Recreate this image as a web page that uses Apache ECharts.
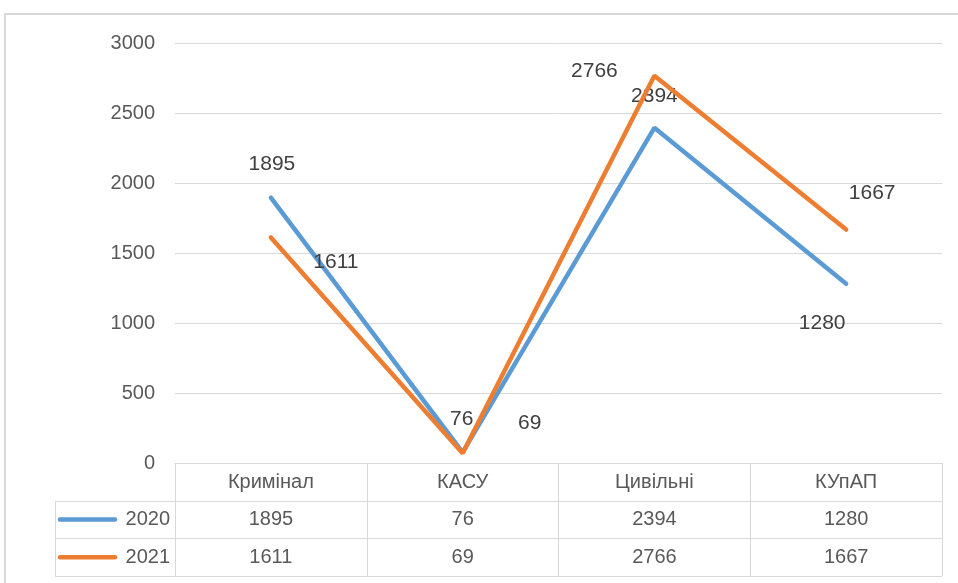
<!DOCTYPE html>
<html>
<head>
<meta charset="utf-8">
<script src="https://cdn.jsdelivr.net/npm/echarts@6/dist/echarts.min.js"></script>
<style>
  html, body { margin: 0; padding: 0; background: #fff; }
  #main { width: 958px; height: 583px; }
</style>
</head>
<body>
<div id="main"></div>
<script>
// дані діаграми
var categories = ['Кримінал', 'КАСУ', 'Цивільні', 'КУпАП'];
var seriesNames = ['2020', '2021'];
var values2020 = [1895, 76, 2394, 1280];
var values2021 = [1611, 69, 2766, 1667];
var yTicks = [0, 500, 1000, 1500, 2000, 2500, 3000];

// кольори та зсуви підписів (як в Excel)
var colors = ['#5B9BD5', '#ED7D31'];
var offs2020 = [[1, -33], [-1, -33], [0, -32], [-24, 39]];
var offs2021 = [[65, 25], [67, -30], [-60, -5], [26, -36]];

var FONT = 'Liberation Sans';
var chart = echarts.init(document.getElementById('main'));

function makeData(vals, offs) {
    return vals.map(function (v, i) {
        return {
            value: v,
            label: { position: 'inside', offset: offs[i] }
        };
    });
}

var option = {
    animation: false,
    backgroundColor: '#fff',
    grid: { left: 175, right: 16, top: 43, bottom: 120 },
    xAxis: {
        type: 'category',
        data: categories,
        boundaryGap: true,
        axisLine: { lineStyle: { color: '#d9d9d9', width: 1 } },
        axisTick: { show: true, length: 113, lineStyle: { color: '#d9d9d9' } },
        axisLabel: { margin: 9, fontFamily: FONT, fontSize: 20, color: '#595959' },
        splitLine: { show: false }
    },
    yAxis: {
        type: 'value',
        min: yTicks[0],
        max: yTicks[yTicks.length - 1],
        interval: 500,
        axisLine: { show: false },
        axisTick: { show: false },
        axisLabel: {
            margin: 20, fontFamily: FONT, fontSize: 20, color: '#595959',
            formatter: function (v) { return String(v); }
        },
        splitLine: { lineStyle: { color: '#d9d9d9', width: 1 } }
    },
    series: [
        {
            name: seriesNames[0],
            type: 'line',
            data: makeData(values2020, offs2020),
            symbol: 'circle',
            symbolSize: 1,
            itemStyle: { color: colors[0] },
            lineStyle: { color: colors[0], width: 4.5, cap: 'round' },
            label: { show: true, fontFamily: FONT, fontSize: 21, color: '#404040' },
            z: 3
        },
        {
            name: seriesNames[1],
            type: 'line',
            data: makeData(values2021, offs2021),
            symbol: 'circle',
            symbolSize: 1,
            itemStyle: { color: colors[1] },
            lineStyle: { color: colors[1], width: 4.5, cap: 'round' },
            label: { show: true, fontFamily: FONT, fontSize: 21, color: '#404040' },
            z: 4
        }
    ]
};
chart.setOption(option);

// таблиця даних під віссю
function buildTable() {
    var g = [];
    var x0 = chart.convertToPixel({ xAxisIndex: 0 }, 0);
    var step = chart.convertToPixel({ xAxisIndex: 0 }, 1) - x0;
    var y0 = chart.convertToPixel({ yAxisIndex: 0 }, 0);
    var left = x0 - step / 2;
    var right = left + step * categories.length;
    var rowH = 37.7;
    var tableLeft = 55;
    var lineStyle = { stroke: '#d9d9d9', lineWidth: 1 };

    // рамка діаграми
    g.push({ type: 'rect', shape: { x: 5, y: 14, width: 970, height: 580 },
        style: { fill: null, stroke: '#d9d9d9', lineWidth: 2 }, silent: true });

    for (var r = 1; r <= 3; r++) {
        var yy = Math.round(y0 + rowH * r) + 0.5;
        g.push({ type: 'line', shape: { x1: tableLeft, y1: yy, x2: right, y2: yy }, style: lineStyle });
    }
    g.push({ type: 'line', shape: { x1: tableLeft + 0.5, y1: y0 + rowH, x2: tableLeft + 0.5, y2: y0 + rowH * 3 }, style: lineStyle });

    var rows = [values2020, values2021];
    rows.forEach(function (vals, ri) {
        var cy = y0 + rowH * (ri + 1.5);
        g.push({ type: 'line', shape: { x1: 60, y1: cy, x2: 115, y2: cy },
            style: { stroke: colors[ri], lineWidth: 4.5, lineCap: 'round' } });
        g.push({ type: 'text', x: 170, y: cy,
            style: { text: seriesNames[ri], fontFamily: FONT, fontSize: 20, fill: '#595959',
                align: 'right', verticalAlign: 'middle' } });
        vals.forEach(function (v, ci) {
            g.push({ type: 'text', x: left + step * (ci + 0.5), y: cy,
                style: { text: String(v), fontFamily: FONT, fontSize: 20, fill: '#595959',
                    align: 'center', verticalAlign: 'middle' } });
        });
    });
    chart.setOption({ graphic: g });
}
buildTable();
</script>
</body>
</html>
